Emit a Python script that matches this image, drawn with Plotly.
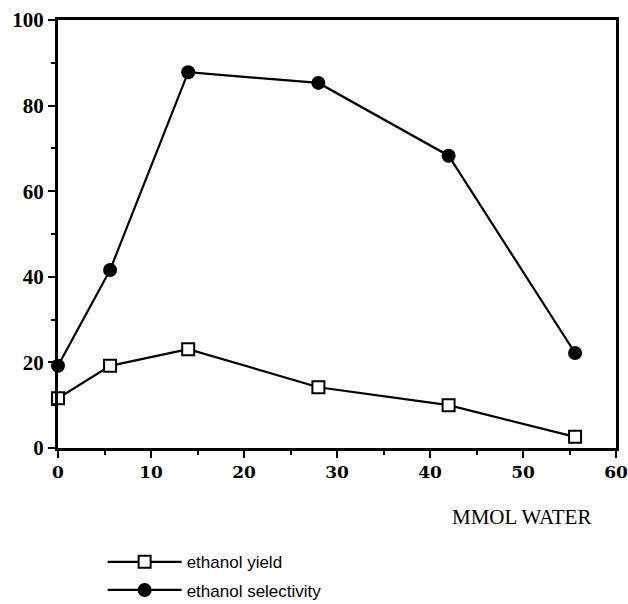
import plotly.graph_objects as go

water_mmol = [0, 5.6, 14, 28, 42, 55.6]
ethanol_yield = [11.6, 19.2, 23.1, 14.2, 10.0, 2.6]
ethanol_selectivity = [19.2, 41.6, 87.8, 85.3, 68.3, 22.2]

x_ticks = [0, 10, 20, 30, 40, 50, 60]
y_ticks = [0, 20, 40, 60, 80, 100]

fig = go.Figure()
fig.add_trace(go.Scatter(
    x=water_mmol, y=ethanol_yield, mode="lines+markers", name="ethanol yield",
    legendgroup="a",
    line=dict(color="black", width=2.2),
    marker=dict(symbol="square", size=12, color="white", line=dict(color="black", width=2)),
    cliponaxis=False,
))
fig.add_trace(go.Scatter(
    x=water_mmol, y=ethanol_selectivity, mode="lines+markers", name="ethanol selectivity",
    legendgroup="b",
    line=dict(color="black", width=2.2),
    marker=dict(symbol="circle", size=14, color="black"),
    cliponaxis=False,
))

fig.update_layout(
    width=628, height=604,
    margin=dict(l=58, r=12, t=20, b=156, autoexpand=False),
    paper_bgcolor="white", plot_bgcolor="white",
    showlegend=True,
    legend=dict(
        x=0.08, y=-0.225, xanchor="left", yanchor="top",
        font=dict(family="Liberation Sans", size=17, color="black"),
        bgcolor="rgba(0,0,0,0)", traceorder="grouped", tracegroupgap=3, itemwidth=74,
    ),
    xaxis=dict(
        range=[0, 60], tickvals=x_ticks, ticktext=[str(v) for v in x_ticks],
        showgrid=False, zeroline=False, showline=True, linecolor="black", linewidth=3,
        mirror=True, ticks="outside", ticklen=7, tickwidth=2, tickcolor="black",
        tickfont=dict(family="DejaVu Serif", size=17, color="black", weight="bold"),
        automargin=False,
        minor=dict(dtick=5, ticks="outside", ticklen=4, tickwidth=2, tickcolor="black", showgrid=False),
    ),
    yaxis=dict(
        range=[0, 100], tickvals=y_ticks, ticktext=[str(v) for v in y_ticks],
        showgrid=False, zeroline=False, showline=True, linecolor="black", linewidth=3,
        mirror=True, ticks="outside", ticklen=7, tickwidth=2, tickcolor="black",
        tickfont=dict(family="Liberation Serif", size=21, color="black", weight="bold"),
        automargin=False,
        minor=dict(dtick=10, ticks="outside", ticklen=4, tickwidth=2, tickcolor="black", showgrid=False),
    ),
    annotations=[dict(
        text="MMOL WATER", xref="paper", yref="paper", x=0.83, y=-0.161,
        xanchor="center", yanchor="middle", showarrow=False,
        font=dict(family="Liberation Serif", size=21, color="black"),
    )],
)

fig.write_html(
    "out.html",
    config={"displayModeBar": False},
    post_script="document.body.style.margin='0';document.body.style.overflow='hidden';",
)
